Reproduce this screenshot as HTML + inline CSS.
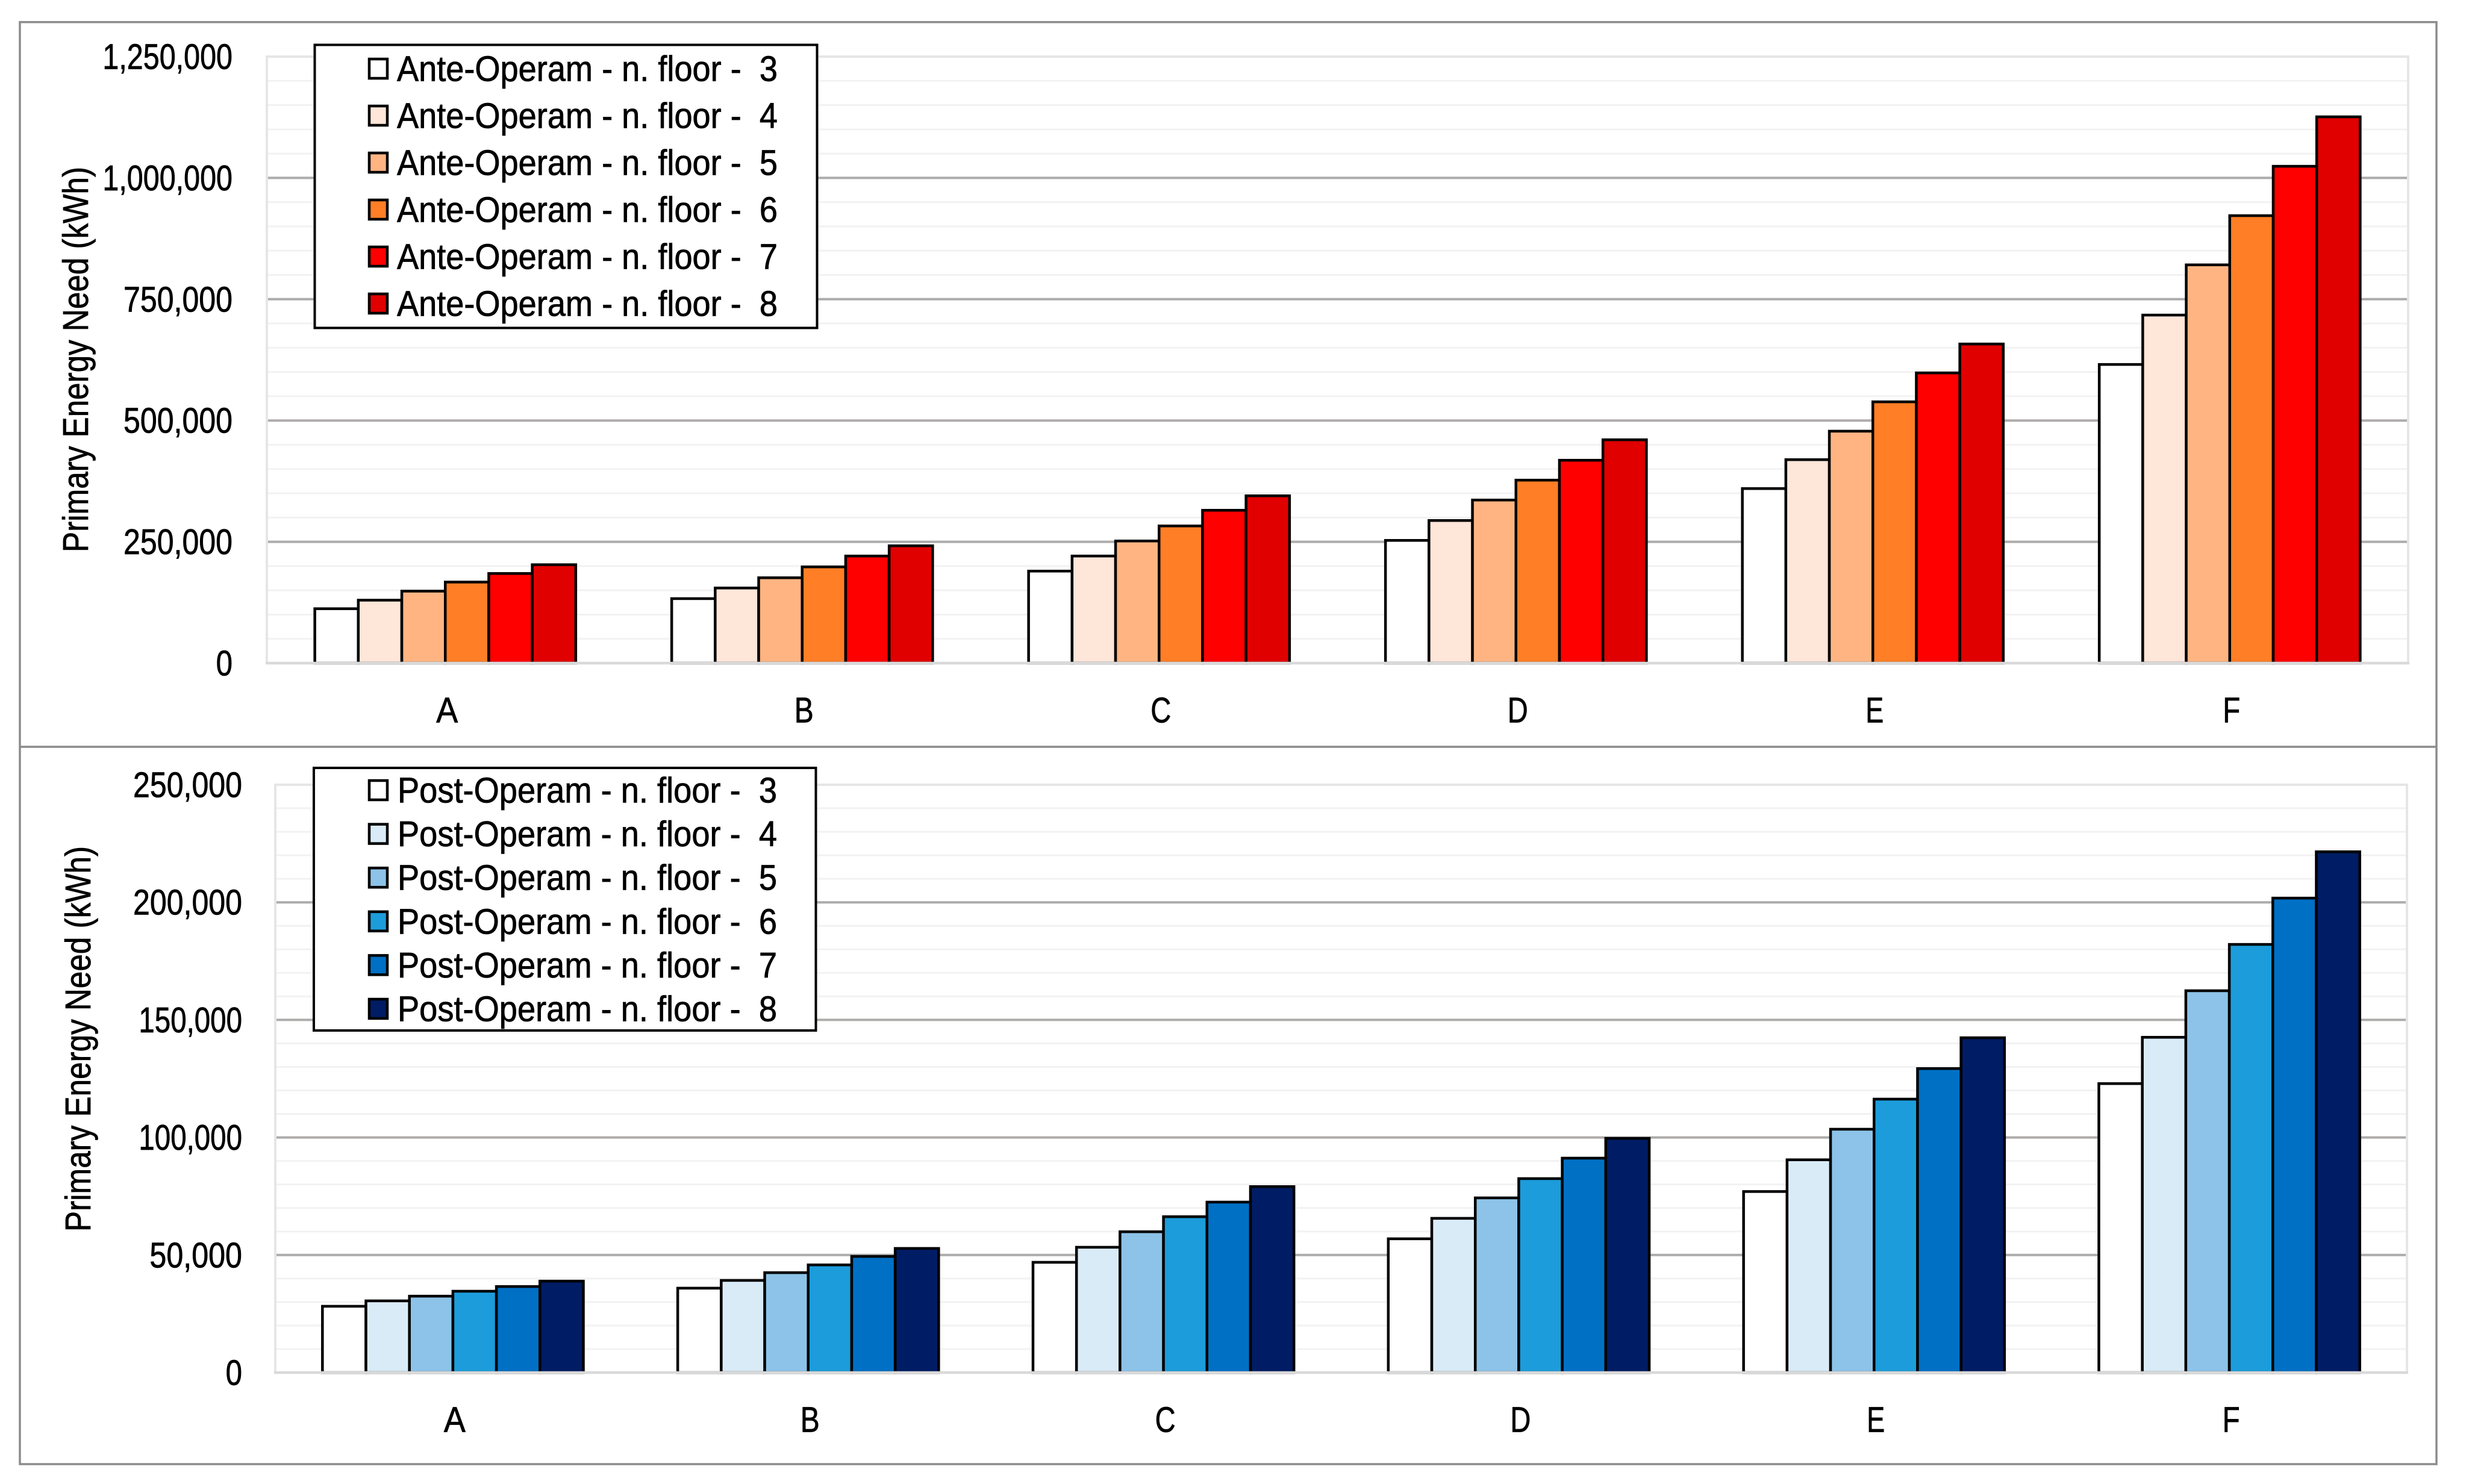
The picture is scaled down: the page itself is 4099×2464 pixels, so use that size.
<!DOCTYPE html>
<html lang="en">
<head>
<meta charset="utf-8">
<title>Primary Energy Need: Ante-Operam and Post-Operam</title>
<style>
html,body{margin:0;padding:0;background:#fff;width:4099px;height:2464px;overflow:hidden}
svg{display:block}
text{font-family:"Liberation Sans",sans-serif;font-size:59px;fill:#000;stroke:#000;stroke-width:0.8px}
</style>
</head>
<body>
<svg id="figure" xmlns="http://www.w3.org/2000/svg" width="4099" height="2464" viewBox="0 0 4099 2464">
  <rect x="0" y="0" width="4099" height="2464" fill="#ffffff"/>
  <g id="chart-top"></g>
  <g id="chart-bottom"></g>
  <rect x="33" y="36.7" width="4012" height="2394.3" fill="none" stroke="#8c8c8c" stroke-width="3.5"/>
  <line x1="33" x2="4045" y1="1240" y2="1240" stroke="#8c8c8c" stroke-width="3.5"/>
  <text transform="translate(146,917) rotate(-90)" textLength="640" lengthAdjust="spacingAndGlyphs">Primary Energy Need (kWh)</text>
  <text transform="translate(150,2045) rotate(-90)" textLength="640" lengthAdjust="spacingAndGlyphs">Primary Energy Need (kWh)</text>
</svg>
<script>
const categories = ['A', 'B', 'C', 'D', 'E', 'F'];

const anteFloor3 = [112100, 132900, 189600, 252900, 359700, 615500];
const anteFloor4 = [129700, 154800, 220700, 293900, 419300, 717300];
const anteFloor5 = [148300, 175900, 251700, 336100, 478000, 820800];
const anteFloor6 = [167000, 198300, 282700, 377100, 538500, 922200];
const anteFloor7 = [184700, 220700, 315000, 418100, 598100, 1024000];
const anteFloor8 = [202800, 241800, 344800, 460300, 657700, 1125900];

const postFloor3 = [28200, 35900, 46900, 56900, 77000, 122900];
const postFloor4 = [30500, 39200, 53300, 65600, 90500, 142600];
const postFloor5 = [32500, 42500, 59900, 74300, 103500, 162400];
const postFloor6 = [34600, 45800, 66300, 82500, 116300, 182100];
const postFloor7 = [36600, 49400, 72500, 91200, 129300, 201800];
const postFloor8 = [38900, 52800, 79100, 99600, 142400, 221500];

const floors = ['3', '4', '5', '6', '7', '8'];

const anteTickValues = [0, 250000, 500000, 750000, 1000000, 1250000];
const anteTickLabels = ['0', '250,000', '500,000', '750,000', '1,000,000', '1,250,000'];
const postTickValues = [0, 50000, 100000, 150000, 200000, 250000];
const postTickLabels = ['0', '50,000', '100,000', '150,000', '200,000', '250,000'];

const anteSeries = [anteFloor3, anteFloor4, anteFloor5, anteFloor6, anteFloor7, anteFloor8];
const postSeries = [postFloor3, postFloor4, postFloor5, postFloor6, postFloor7, postFloor8];

const anteColors = ['#ffffff', '#fee6d9', '#ffb482', '#ff7e26', '#ff0000', '#e00000'];
const postColors = ['#ffffff', '#daebf8', '#8dc3e8', '#1c9cdb', '#0070c5', '#001c64'];

const NS = 'http://www.w3.org/2000/svg';

function make(parent, tag, attrs, content) {
  const el = document.createElementNS(NS, tag);
  for (const k in attrs) el.setAttribute(k, attrs[k]);
  if (content !== undefined) el.textContent = content;
  parent.appendChild(el);
  return el;
}

function tickWidth(label) {
  let w = 0;
  for (const ch of label) {
    if (ch === ',') w += 16.6;
    else if (ch === '1') w += 18;
    else w += 27.4;
  }
  return w;
}

const catLabelWidths = { A: 36, B: 32, C: 34, D: 34, E: 30, F: 29 };

function drawChart(cfg) {
  const root = document.getElementById(cfg.rootId);
  const yMax = cfg.tickValues[cfg.tickValues.length - 1];
  const yScale = v => cfg.plot.bottom - (v / yMax) * (cfg.plot.bottom - cfg.plot.top);
  const catWidth = (cfg.plot.right - cfg.plot.left) / categories.length;
  const catCenter = i => cfg.plot.left + catWidth * (i + 0.5);

  // minor gridlines
  for (let v = cfg.minorStep; v < yMax; v += cfg.minorStep) {
    if (cfg.tickValues.includes(v)) continue;
    const minor = make(root, 'line', { x1: cfg.plot.left, x2: cfg.plot.right, y1: yScale(v), y2: yScale(v), stroke: '#f2f2f2', 'stroke-width': 3 });
    
    
  }

  // major gridlines and tick labels
  cfg.tickValues.forEach((v, i) => {
    if (v !== 0 && v !== yMax) {
      const major = make(root, 'line', { x1: cfg.plot.left, x2: cfg.plot.right, y1: yScale(v), y2: yScale(v), stroke: '#aeacab', 'stroke-width': 4 });
      
      
    }
    const tick = make(root, 'text', { x: cfg.tickX, y: yScale(v) + 20.5, 'text-anchor': 'end', textLength: tickWidth(cfg.tickLabels[i]), lengthAdjust: 'spacingAndGlyphs' }, cfg.tickLabels[i]);
    
    
  });

  // plot border (top, left, right)
  const border = make(root, 'path', { d: 'M' + cfg.plot.left + ' ' + cfg.plot.bottom + 'V' + cfg.plot.top + 'H' + cfg.plot.right + 'V' + cfg.plot.bottom, fill: 'none', stroke: '#e6e6e6', 'stroke-width': 4 });
  
  

  // bars
  const barStep = 72.2;
  cfg.series.forEach((values, s) => {
    const group = make(root, 'g', {});
    
    
    values.forEach((v, c) => {
      const x = catCenter(c) - barStep * 3 + s * barStep;
      const bar = make(group, 'rect', { x: x, y: yScale(v), width: barStep, height: yScale(0) - yScale(v), fill: cfg.colors[s], stroke: '#000000', 'stroke-width': 4.5 });
      
      
    });
  });

  // x axis and category labels
  const axis = make(root, 'line', { x1: cfg.plot.left - 2, x2: cfg.plot.right + 2, y1: cfg.plot.bottom, y2: cfg.plot.bottom, stroke: '#d9d9d9', 'stroke-width': 4.5 });
  
  
  categories.forEach((name, c) => {
    const label = make(root, 'text', { x: catCenter(c) + 3, y: cfg.catBaseline, 'text-anchor': 'middle', textLength: catLabelWidths[name], lengthAdjust: 'spacingAndGlyphs' }, name);
    
    
  });

  // legend
  const legend = make(root, 'g', {});
  
  
  const box = make(legend, 'rect', { x: cfg.legend.x, y: cfg.legend.y, width: cfg.legend.w, height: cfg.legend.h, fill: '#ffffff', stroke: '#000000', 'stroke-width': 4 });
  
  
  floors.forEach((f, i) => {
    const swatch = make(legend, 'rect', { x: 613, y: cfg.legend.swatchY + i * cfg.legend.pitch, width: 30, height: 32, fill: cfg.colors[i], stroke: '#000000', 'stroke-width': 4.5 });
    
    
    const entry = make(legend, 'text', { x: cfg.legend.textX, y: cfg.legend.baseline + i * cfg.legend.pitch, textLength: cfg.legend.textW, lengthAdjust: 'spacingAndGlyphs' }, cfg.legendPrefix + ' - n. floor -\u00a0\u00a0' + f);
    
    
  });
}

drawChart({
  rootId: 'chart-top',
  plot: { left: 443, right: 3998, top: 94, bottom: 1101 },
  series: anteSeries,
  colors: anteColors,
  tickValues: anteTickValues,
  tickLabels: anteTickLabels,
  minorStep: 50000,
  tickX: 386,
  catBaseline: 1199.5,
  legendPrefix: 'Ante-Operam',
  legend: { x: 522.5, y: 74.5, w: 834, h: 470, swatchY: 98, pitch: 78, textX: 659, textW: 632, baseline: 134.5 }
});

drawChart({
  rootId: 'chart-bottom',
  plot: { left: 457, right: 3996, top: 1303, bottom: 2279 },
  series: postSeries,
  colors: postColors,
  tickValues: postTickValues,
  tickLabels: postTickLabels,
  minorStep: 10000,
  tickX: 402,
  catBaseline: 2377.5,
  legendPrefix: 'Post-Operam',
  legend: { x: 521, y: 1275, w: 833.5, h: 436, swatchY: 1296, pitch: 72.6, textX: 660, textW: 630, baseline: 1332.5 }
});
</script>
</body>
</html>
